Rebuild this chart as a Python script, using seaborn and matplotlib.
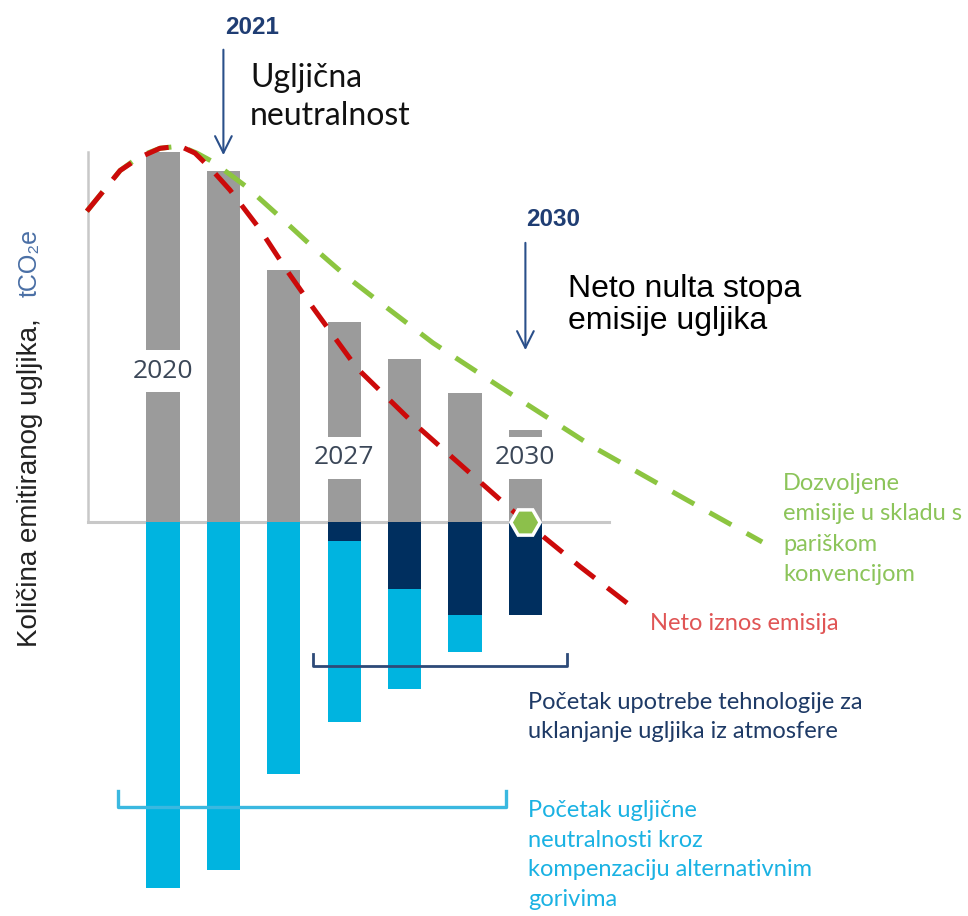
import matplotlib
matplotlib.use('Agg')
import matplotlib.pyplot as plt
import seaborn as sns

W, H = 968, 916

# bar data (arbitrary emission units, positive = emitted, negative = removed/offset)
years = ['2020', '2021', '2024', '2027', '2028', '2029', '2030']
gross_emissions = [100, 95, 68, 54, 44, 35, 25]
removal_tech = [0, 0, 0, 5, 18, 25, 25]
fuel_offsets = [99, 94, 68, 49, 27, 10, 0]
labelled_years = ['2020', '2027', '2030']

# curves (x in bar positions)
net_x = [-1.26, -0.96, -0.71, -0.38, -0.05, 0.28, 0.53, 0.78, 1.11, 1.61,
         2.05, 2.48, 3.21, 4.09, 5.03, 6.0, 6.9, 7.77]
net_y = [84, 90, 95, 98.6, 101, 101.6, 99.7, 95.7, 89.7, 79,
         68, 58, 41.6, 27.6, 14, 0, -12, -23]
allowed_x = [-1.26, -0.96, -0.71, -0.38, -0.05, 0.28, 0.56, 0.83, 1.39, 1.94,
             2.48, 3.05, 3.54, 4.47, 5.58, 7.12, 8.68, 9.92]
allowed_y = [84, 90, 95, 98.9, 101, 101.6, 99.7, 97.3, 90.5, 82.4,
             74.3, 66.2, 60, 48.4, 36.5, 20.3, 5.9, -5.4]

GREY = '#9b9b9b'
NAVY = '#002f5f'
CYAN = '#00b4e0'
RED = '#cc0a0a'
GREEN = '#8cc540'


def px(x, y):
    return x / W, 1 - y / H


fig = plt.figure(figsize=(W / 100, H / 100), dpi=100)
ax = fig.add_axes([0, 0, 1, 1])

# axis lines
ax.plot([-1.242, -1.242], [0, 100], color='#c8c8c8', lw=1.8, zorder=1)
ax.plot([-1.242, 7.38], [0, 0], color='#c8c8c8', lw=2.2, zorder=1)

# bars
total_neg = [-(a + b) for a, b in zip(removal_tech, fuel_offsets)]
sns.barplot(x=years, y=gross_emissions, color=GREY, width=0.55,
            saturation=1, errorbar=None, ax=ax, zorder=2)
sns.barplot(x=years, y=total_neg, color=CYAN, width=0.55,
            saturation=1, errorbar=None, ax=ax, zorder=2)
sns.barplot(x=years, y=[-v for v in removal_tech], color=NAVY, width=0.55,
            saturation=1, errorbar=None, ax=ax, zorder=2)

# year labels inside bars
for yr, yc in zip(labelled_years, [40.8, 17.3, 17.3]):
    ax.text(years.index(yr), yc, yr, ha='center', va='center', fontsize=19,
            family='Open Sans', color='#3b4758', zorder=3,
            bbox=dict(facecolor='white', edgecolor='none', pad=6))

# curves
sns.lineplot(x=allowed_x, y=allowed_y, color=GREEN, lw=3.6, sort=False,
             ax=ax, zorder=4)
ax.lines[-1].set_dashes([5, 3.5])
sns.lineplot(x=net_x, y=net_y, color=RED, lw=3.6, sort=False, ax=ax, zorder=5)
ax.lines[-1].set_dashes([5, 3.2])

# net zero point
ax.plot([6], [0], marker='H', ms=21, mfc='#8cc04b', mec='white', mew=2.5,
        zorder=6)

# brackets
ax.plot([2.48, 2.48, 6.69, 6.69], [-35.7, -38.9, -38.9, -35.7],
        color='#2d4a78', lw=2, zorder=4)
ax.plot([-0.745, -0.745, 5.68, 5.68], [-72.7, -77, -77, -72.7],
        color='#3ab8e0', lw=2.4, zorder=4)

# arrows
arrow = dict(arrowstyle='->', color='#2a4f8a', lw=1.5, mutation_scale=30)
ax.annotate('', xy=(1, 98.4), xytext=(1, 128.4), arrowprops=arrow)
ax.annotate('', xy=(6, 45.7), xytext=(6, 76.2), arrowprops=arrow)

ax.set_xlim(-163 / 60.4, (W - 163) / 60.4)
ax.set_ylim((522 - H) / 3.7, 522 / 3.7)
ax.axis('off')

# annotations
fig.text(*px(252, 27), '2021', ha='center', va='center', fontsize=17.5,
         fontweight='bold', family='Liberation Sans', color='#1f3d73')
fig.text(*px(553, 219), '2030', ha='center', va='center', fontsize=17.5,
         fontweight='bold', family='Liberation Sans', color='#1f3d73')
fig.text(*px(250, 97), 'Ugljična\nneutralnost', ha='left', va='center',
         fontsize=23, family='Lato', color='#111111', linespacing=1.3)
fig.text(*px(568, 305), 'Neto nulta stopa\nemisije ugljika', ha='left',
         va='center', fontsize=23, family='Liberation Sans', color='#000000',
         linespacing=1.05)
fig.text(*px(783, 529), 'Dozvoljene\nemisije u skladu s\npariškom\nkonvencijom',
         ha='left', va='center', fontsize=17, family='Lato',
         color='#8cc45a', linespacing=1.55)
fig.text(*px(650, 623), 'Neto iznos emisija', ha='left', va='center',
         fontsize=17, family='Lato', color='#e05555')
fig.text(*px(528, 717),
         'Početak upotrebe tehnologije za\nuklanjanje ugljika iz atmosfere',
         ha='left', va='center', fontsize=17, family='Lato',
         color='#1e3a66', linespacing=1.5)
fig.text(*px(528, 855),
         'Početak ugljične\nneutralnosti kroz\nkompenzaciju alternativnim\ngorivima',
         ha='left', va='center', fontsize=17, family='Lato',
         color='#1ab2e3', linespacing=1.5)
fig.text(*px(30, 483), 'Količina emitiranog ugljika,', rotation=90,
         ha='center', va='center', fontsize=20, family='Liberation Sans',
         color='#222222')
fig.text(*px(30, 263), 'tCO₂e', rotation=90, ha='center', va='center',
         fontsize=18, family=['Liberation Sans', 'DejaVu Sans'],
         color='#4a6fa5')

fig.savefig('out.png', dpi=100)
